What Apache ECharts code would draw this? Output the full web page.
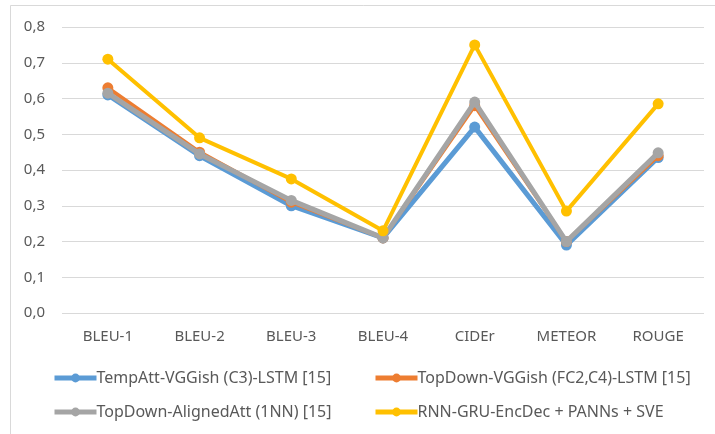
<!DOCTYPE html>
<html>
<head>
<meta charset="utf-8">
<script src="https://cdn.jsdelivr.net/npm/echarts@6/dist/echarts.min.js"></script>
<style>
  html, body { margin: 0; padding: 0; background: #fff; }
  #chart { width: 715px; height: 434px; }
</style>
</head>
<body>
<div id="chart"></div>
<script>
// metric names on the x axis
var categories = ['BLEU-1', 'BLEU-2', 'BLEU-3', 'BLEU-4', 'CIDEr', 'METEOR', 'ROUGE'];

var seriesNames = [
  'TempAtt-VGGish (C3)-LSTM [15]',
  'TopDown-VGGish (FC2,C4)-LSTM [15]',
  'TopDown-AlignedAtt (1NN) [15]',
  'RNN-GRU-EncDec + PANNs + SVE'
];

var tempAtt = [0.61, 0.44, 0.30, 0.21, 0.52, 0.19, 0.435];
var topDownVGG = [0.63, 0.45, 0.31, 0.21, 0.58, 0.20, 0.44];
var topDownAligned = [0.615, 0.445, 0.315, 0.21, 0.59, 0.20, 0.448];
var rnnGru = [0.71, 0.49, 0.375, 0.23, 0.75, 0.285, 0.585];

var colors = ['#5B9BD5', '#ED7D31', '#A5A5A5', '#FFC000'];
var font = 'Noto Sans';

function mkSeries(i, data, width) {
  return {
    name: seriesNames[i],
    type: 'line',
    data: data,
    symbol: 'circle',
    symbolSize: 11,
    lineStyle: { width: width, color: colors[i] },
    itemStyle: { color: colors[i] },
    z: 2 + i
  };
}

function mkLegend(i, left, top) {
  return {
    data: [seriesNames[i]],
    left: left,
    top: top,
    itemWidth: 42,
    itemHeight: 11,
    itemGap: 0,
    lineStyle: { width: 5 },
    textStyle: { color: '#595959', fontSize: 16, fontFamily: font, padding: [0, 0, 0, -5] }
  };
}

var chart = echarts.init(document.getElementById('chart'));
chart.setOption({
  animation: false,
  backgroundColor: '#fff',
  graphic: [{
    type: 'rect',
    shape: { x: 10.5, y: 5.5, width: 710, height: 440 },
    style: { fill: 'none', stroke: '#D9D9D9', lineWidth: 1 },
    silent: true
  }],
  grid: { left: 62, right: 11, top: 27, bottom: 121 },
  legend: [
    mkLegend(0, 47, 365),
    mkLegend(1, 368, 365),
    mkLegend(2, 47, 399),
    mkLegend(3, 368, 399)
  ],
  xAxis: {
    type: 'category',
    data: categories,
    axisLine: { show: false },
    axisTick: { show: false },
    axisLabel: { color: '#595959', fontSize: 15, fontFamily: font, margin: 16 }
  },
  yAxis: {
    type: 'value',
    min: 0,
    max: 0.8,
    interval: 0.1,
    axisLine: { show: false },
    axisTick: { show: false },
    splitLine: { lineStyle: { color: '#D9D9D9', width: 1 } },
    axisLabel: {
      color: '#595959', fontSize: 15, fontFamily: font, margin: 17,
      formatter: function (v) { return v.toFixed(1).replace('.', ','); }
    }
  },
  series: [
    mkSeries(0, tempAtt, 5),
    mkSeries(1, topDownVGG, 4),
    mkSeries(2, topDownAligned, 5),
    mkSeries(3, rnnGru, 4)
  ]
});
</script>
</body>
</html>
